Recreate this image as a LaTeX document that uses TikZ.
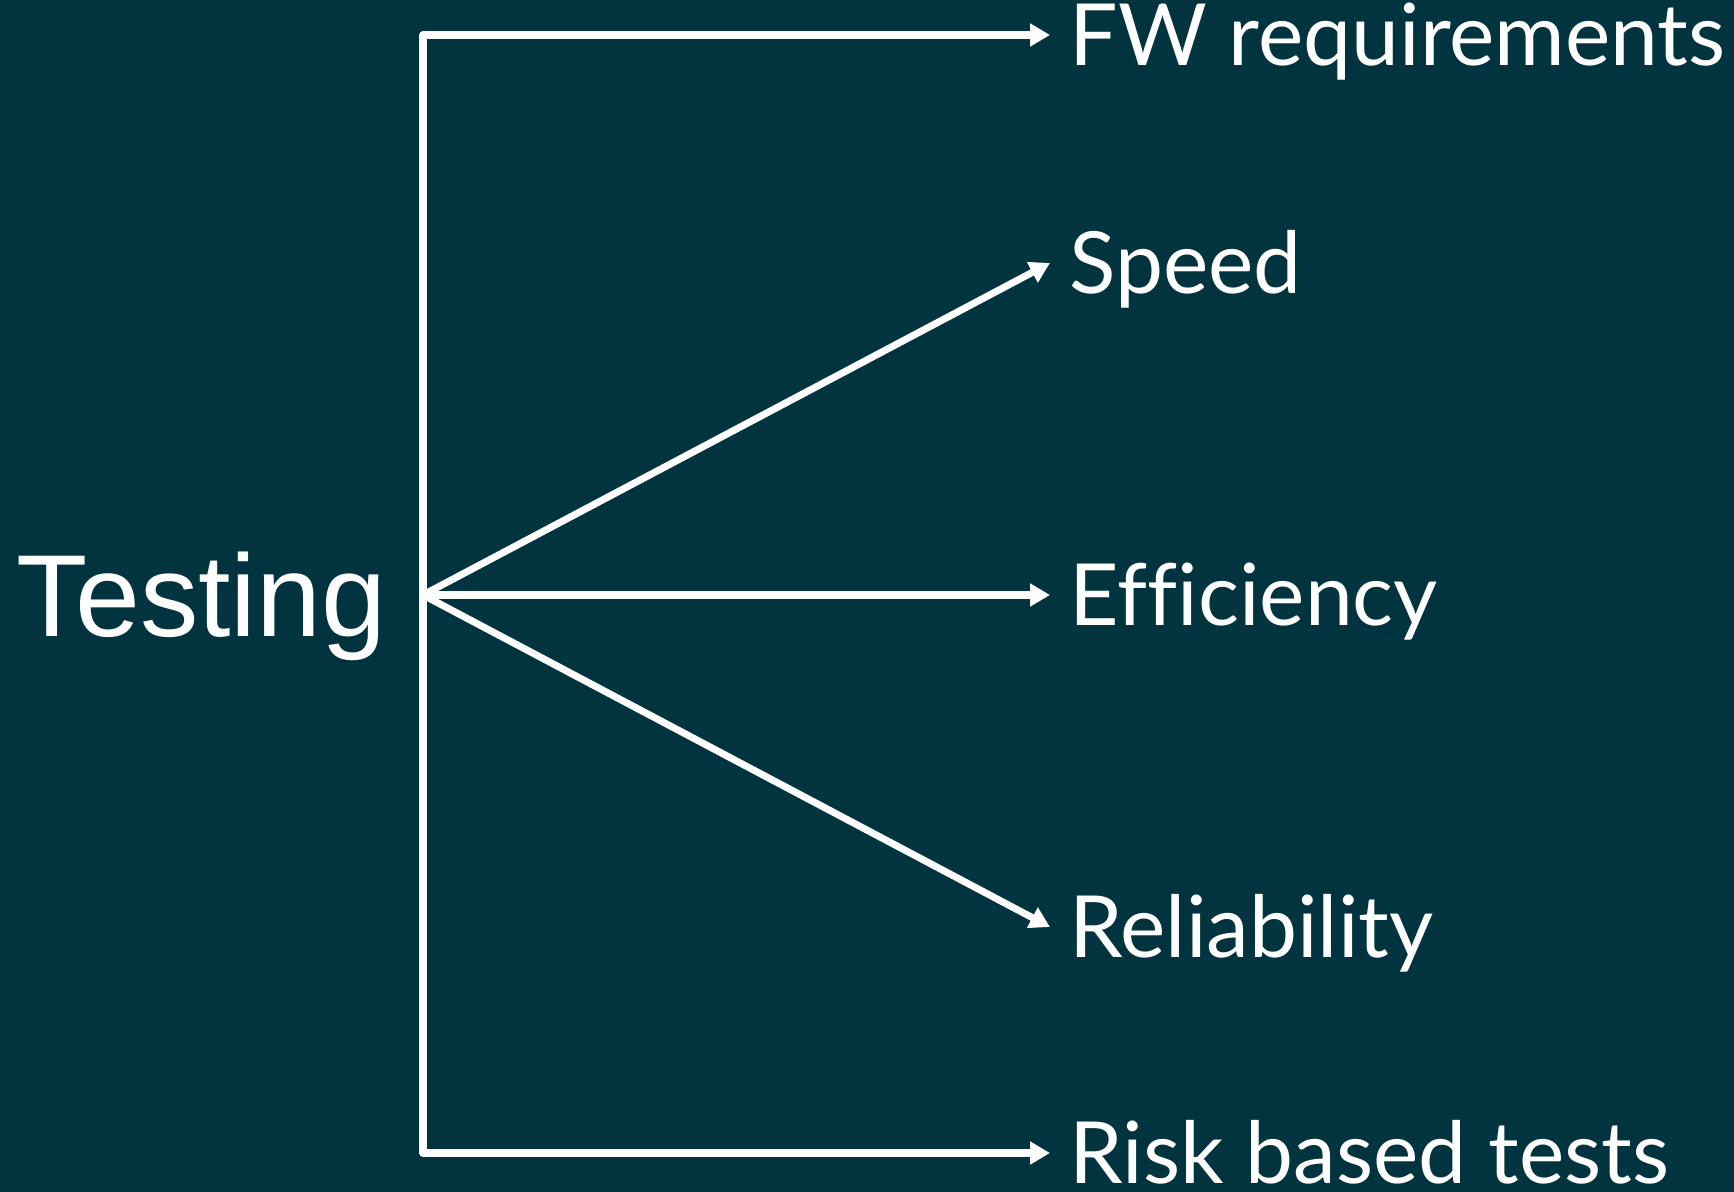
\documentclass[tikz,border=0pt]{standalone}
\usepackage{fontspec}
\setmainfont{Lato}[Ligatures=CommonOff]
\newfontfamily\headfont{Liberation Sans}
\usetikzlibrary{positioning, arrows.meta}
\definecolor{bgteal}{HTML}{02343F}

\begin{document}
\begin{tikzpicture}[x=0.1mm, y=-0.1mm, white, line width=2pt,
    line join=round, >={Triangle[length=2mm, width=2.2mm]},
    aspect/.style={anchor=west, inner xsep=1.6mm, inner ysep=0pt,
      text height=6.1mm, text depth=0pt,
      font=\fontsize{24.4pt}{29pt}\selectfont},
    headnode/.style={inner sep=0pt, text height=8.3mm, text depth=0pt,
      font=\headfont\fontsize{33.2pt}{39pt}\selectfont}]

  \useasboundingbox (0,0) rectangle (1734,1192);
  \fill[bgteal] (0,0) rectangle (1734,1192);

  \coordinate (hub) at (423,595);
  \node[headnode] (testing) [left=3.3mm of hub] {Testing};

  \node[aspect] (fw) at (1050,35) {FW requirements};
  \node[aspect] (speed) at (1050,263) {Speed};
  \node[aspect] (eff) at (1050,595) {Efficiency};
  \node[aspect] (rel) at (1050,927) {Reliability};
  \node[aspect] (risk) at (1050,1153) {Risk based tests};

  \draw[->] (hub) |- (fw.west);
  \draw[->] (hub) |- (risk.west);
  \draw[->] (hub) -- (speed.west);
  \draw[->] (hub) -- (eff.west);
  \draw[->] (hub) -- (rel.west);
\end{tikzpicture}
\end{document}
